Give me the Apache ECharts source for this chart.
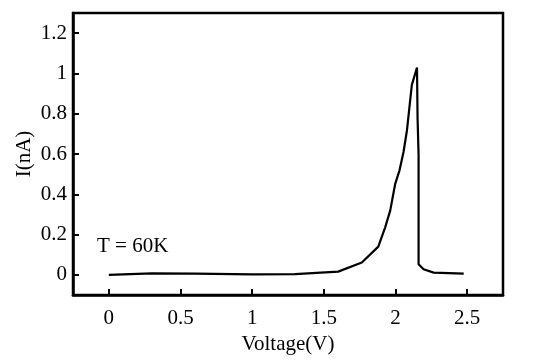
<!DOCTYPE html>
<html>
<head>
<meta charset="utf-8">
<script src="https://cdn.jsdelivr.net/npm/echarts@6/dist/echarts.min.js"></script>
<style>html,body{margin:0;padding:0;background:#fff;}#c{width:538px;height:363px;}</style>
</head>
<body>
<div id="c"></div>
<script>
var voltage = [0, 0.3, 0.6, 1.0, 1.3, 1.6, 1.765, 1.88, 1.928, 1.963, 1.998, 2.028, 2.056, 2.08, 2.114, 2.15, 2.154, 2.161, 2.161, 2.196, 2.266, 2.476];
var current = [0, 0.007, 0.006, 0.002, 0.004, 0.016, 0.061, 0.14, 0.236, 0.319, 0.452, 0.519, 0.61, 0.718, 0.943, 1.029, 0.777, 0.594, 0.053, 0.028, 0.011, 0.006];
var xTicks = [0, 0.5, 1, 1.5, 2, 2.5];
var yTicks = [0, 0.2, 0.4, 0.6, 0.8, 1, 1.2];
var annotation = 'T = 60K';

var font = 'Liberation Serif';
var fs = 21;
var pts = voltage.map(function (v, i) { return [v, current[i]]; });
var chart = echarts.init(document.getElementById('c'));
chart.setOption({
  animation: false,
  backgroundColor: '#fff',
  grid: { left: 73, right: 35, top: 13, bottom: 68, show: true, borderColor: '#000', borderWidth: 2.5, backgroundColor: 'transparent' },
  xAxis: {
    type: 'value', min: -0.25, max: 2.75,
    name: 'Voltage(V)', nameLocation: 'middle', nameGap: 39, nameMoveOverlap: false,
    nameTextStyle: { fontFamily: font, fontSize: fs, color: '#000' },
    axisLine: { show: true, onZero: false, lineStyle: { color: '#000', width: 2.5 } },
    axisTick: { show: true, inside: true, length: 6, customValues: xTicks, lineStyle: { color: '#000', width: 2 } },
    axisLabel: { customValues: xTicks, margin: 13, fontFamily: font, fontSize: fs, color: '#000' },
    splitLine: { show: false }
  },
  yAxis: {
    type: 'value', min: -0.1, max: 1.3,
    name: 'I(nA)', nameLocation: 'middle', nameGap: 38, nameMoveOverlap: false,
    nameTextStyle: { fontFamily: font, fontSize: fs, color: '#000' },
    axisLine: { show: true, onZero: false, lineStyle: { color: '#000', width: 2.5 } },
    axisTick: { show: true, inside: true, length: 6, customValues: yTicks, lineStyle: { color: '#000', width: 2 } },
    axisLabel: { customValues: yTicks, margin: 6, fontFamily: font, fontSize: fs, color: '#000' },
    splitLine: { show: false }
  },
  graphic: [{
    type: 'text', left: 97, top: 236,
    style: { text: annotation, font: '21px "Liberation Serif"', fill: '#000' }
  }],
  series: [{
    type: 'line', data: pts, showSymbol: false, smooth: false,
    lineStyle: { color: '#000', width: 2.2 }
  }]
});
</script>
</body>
</html>
